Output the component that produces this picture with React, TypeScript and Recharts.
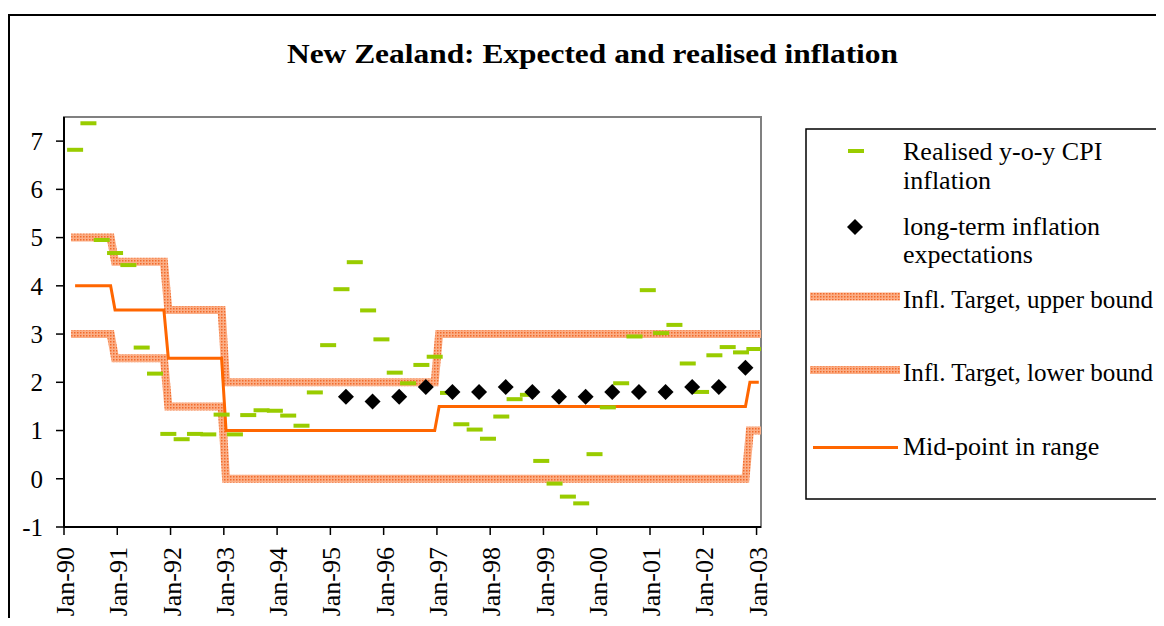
import React from 'react';
import { ComposedChart, Line, Scatter, XAxis, YAxis, ReferenceArea, Legend } from 'recharts';

// ---- Data ----
// Month index 0 = Jan-90. Points are plotted in the middle of their month slot.
const xTickMonths = [0, 12, 24, 36, 48, 60, 72, 84, 96, 108, 120, 132, 144, 156];
const xTickLabels = ['Jan-90', 'Jan-91', 'Jan-92', 'Jan-93', 'Jan-94', 'Jan-95', 'Jan-96', 'Jan-97', 'Jan-98', 'Jan-99', 'Jan-00', 'Jan-01', 'Jan-02', 'Jan-03'];
const yTicks = [-1, 0, 1, 2, 3, 4, 5, 6, 7];

// Realised y-o-y CPI inflation, quarterly from Mar-90 to Dec-02
const cpiFirstMonth = 2;
const cpiStepMonths = 3;
const cpiValues = [
  6.82, 7.37, 4.95, 4.68, 4.43, 2.72, 2.18, 0.93, 0.82, 0.93, 0.92, 1.33, 0.92,
  1.32, 1.42, 1.41, 1.31, 1.10, 1.79, 2.77, 3.93, 4.49, 3.49, 2.89, 2.20, 1.98,
  2.36, 2.53, 1.78, 1.13, 1.02, 0.83, 1.29, 1.65, 1.74, 0.37, -0.10, -0.37, -0.51,
  0.51, 1.48, 1.98, 2.95, 3.91, 3.02, 3.19, 2.39, 1.80, 2.56, 2.73, 2.62, 2.69,
];

// Long-term inflation expectations, half-yearly from Apr-95 to Oct-02
const expFirstMonth = 63;
const expStepMonths = 6;
const expValues = [1.7, 1.6, 1.7, 1.9, 1.8, 1.8, 1.9, 1.8, 1.7, 1.7, 1.8, 1.8, 1.8, 1.9, 1.9, 2.3];

// Target band (monthly series, listed at the months where it changes)
const bandMonths = [2, 10, 11, 22, 23, 35, 36, 83, 84, 153, 154, 156];
const upperBound = [5, 5, 4.5, 4.5, 3.5, 3.5, 2, 2, 3, 3, 3, 3];
const lowerBound = [3, 3, 2.5, 2.5, 1.5, 1.5, 0, 0, 0, 0, 1, 1];
const midPoint = [4, 4, 3.5, 3.5, 2.5, 2.5, 1, 1, 1.5, 1.5, 2, 2];

const cpiData = cpiValues.map((v, k) => ({ m: cpiFirstMonth + k * cpiStepMonths + 0.5, v }));
const expData = expValues.map((v, k) => ({ m: expFirstMonth + k * expStepMonths + 0.5, v }));
const bandData = bandMonths.map((mo, k) => ({
  m: mo + 0.5,
  upper: upperBound[k],
  lower: lowerBound[k],
  mid: midPoint[k],
}));

const FONT = '"Liberation Serif", "Times New Roman", serif';
const GREEN = '#99CC00';
const ORANGE = '#FF6600';

const PatternDefs = ({ id }: { id: string }) => (
  <defs>
    <pattern id={id} width="3" height="3" patternUnits="userSpaceOnUse">
      <rect width="3" height="3" fill="#FBAE86" />
      <rect width="1.5" height="1.5" fill="#F26A2A" />
    </pattern>
  </defs>
);

const DashShape = (props: any) => {
  const { cx, cy } = props;
  if (cx == null || cy == null) return null;
  return <rect x={cx - 8} y={cy - 2} width={16} height={4} fill={GREEN} />;
};

const DiamondShape = (props: any) => {
  const { cx, cy } = props;
  if (cx == null || cy == null) return null;
  const r = 8;
  return <polygon points={`${cx},${cy - r} ${cx + r},${cy} ${cx},${cy + r} ${cx - r},${cy}`} fill="#000" />;
};

const XTick = (props: any) => {
  const { x, y, payload } = props;
  const idx = xTickMonths.indexOf(payload.value);
  const label = idx >= 0 ? xTickLabels[idx] : '';
  return (
    <g transform={`translate(${x + 1},${y + 8})`}>
      <text transform="rotate(-90)" x={0} y={0} dy="0.35em" textAnchor="end" fontSize={26} fontFamily={FONT} fill="#000">
        {label}
      </text>
    </g>
  );
};

const LegendContent = () => {
  const textProps = { fontSize: 26, fontFamily: FONT, fill: '#000' };
  return (
    <svg width={360} height={372} style={{ display: 'block' }}>
      <PatternDefs id="bandPatLegend" />
      <rect x={1} y={1} width={400} height={370} fill="#fff" stroke="#000" strokeWidth={1.5} />
      <rect x={43} y={21} width={16} height={4} fill={GREEN} />
      <text x={98} y={32} {...textProps}>Realised y-o-y CPI</text>
      <text x={98} y={61} {...textProps}>inflation</text>
      <polygon points="50,91 58,99 50,107 42,99" fill="#000" />
      <text x={98} y={107} {...textProps}>long-term inflation</text>
      <text x={98} y={135} {...textProps}>expectations</text>
      <line x1={5} x2={95} y1={168.5} y2={168.5} stroke="url(#bandPatLegend)" strokeWidth={8} />
      <text x={98} y={180} {...textProps} textLength={250} lengthAdjust="spacingAndGlyphs">Infl. Target, upper bound</text>
      <line x1={5} x2={95} y1={242} y2={242} stroke="url(#bandPatLegend)" strokeWidth={8} />
      <text x={98} y={253} {...textProps} textLength={250} lengthAdjust="spacingAndGlyphs">Infl. Target, lower bound</text>
      <line x1={8} x2={93} y1={319.5} y2={319.5} stroke={ORANGE} strokeWidth={3} />
      <text x={98} y={327} {...textProps}>Mid-point in range</text>
    </svg>
  );
};

export default function App() {
  return (
    <div style={{ position: 'relative', width: 1156, height: 610, overflow: 'hidden', fontFamily: FONT, background: '#fff' }}>
      <div style={{ position: 'absolute', left: 0, top: 6, width: 1220, height: 700, border: '2px solid #000', boxSizing: 'border-box' }} />
      <svg width={1156} height={80} style={{ position: 'absolute', left: 0, top: 0 }}>
        <text x={584.5} y={55} textAnchor="middle" fontSize={28} fontWeight="bold" fontFamily={FONT} fill="#000" textLength={611} lengthAdjust="spacingAndGlyphs">
          New Zealand: Expected and realised inflation
        </text>
      </svg>
      <div style={{ position: 'absolute', left: 0, top: 0 }}>
        <ComposedChart width={1156} height={618} margin={{ top: 109, right: 403, bottom: 9, left: 6 }}>
          <PatternDefs id="bandPat" />
          <ReferenceArea x1={0} x2={157} y1={-1} y2={7.5} fill="none" stroke="#808080" strokeWidth={2} ifOverflow="visible" />
          <XAxis
            type="number"
            dataKey="m"
            domain={[0, 157]}
            ticks={xTickMonths}
            interval={0}
            allowDataOverflow
            height={90}
            tickSize={8}
            tickMargin={4}
            axisLine={{ stroke: '#000', strokeWidth: 2 }}
            tickLine={{ stroke: '#000', strokeWidth: 1.5 }}
            tick={<XTick />}
          />
          <YAxis
            type="number"
            domain={[-1, 7.5]}
            ticks={yTicks}
            interval={0}
            allowDataOverflow
            width={50}
            tickSize={8}
            tickMargin={13}
            axisLine={{ stroke: '#000', strokeWidth: 2 }}
            tickLine={{ stroke: '#000', strokeWidth: 1.5 }}
            tick={{ fill: '#000', fontSize: 25, fontFamily: FONT }}
          />
          <Line data={bandData} dataKey="upper" type="linear" stroke="url(#bandPat)" strokeWidth={8} strokeLinecap="square" dot={false} activeDot={false} isAnimationActive={false} />
          <Line data={bandData} dataKey="lower" type="linear" stroke="url(#bandPat)" strokeWidth={8} strokeLinecap="square" dot={false} activeDot={false} isAnimationActive={false} />
          <Line data={bandData} dataKey="mid" type="linear" stroke={ORANGE} strokeWidth={3} dot={false} activeDot={false} isAnimationActive={false} />
          <Scatter data={cpiData} dataKey="v" shape={DashShape} isAnimationActive={false} />
          <Scatter data={expData} dataKey="v" shape={DiamondShape} isAnimationActive={false} />
          <Legend
            layout="horizontal"
            align="center"
            verticalAlign="middle"
            content={() => <LegendContent />}
            wrapperStyle={{ position: 'absolute', left: 797, top: 120, width: 360, height: 372 }}
          />
        </ComposedChart>
      </div>
    </div>
  );
}
